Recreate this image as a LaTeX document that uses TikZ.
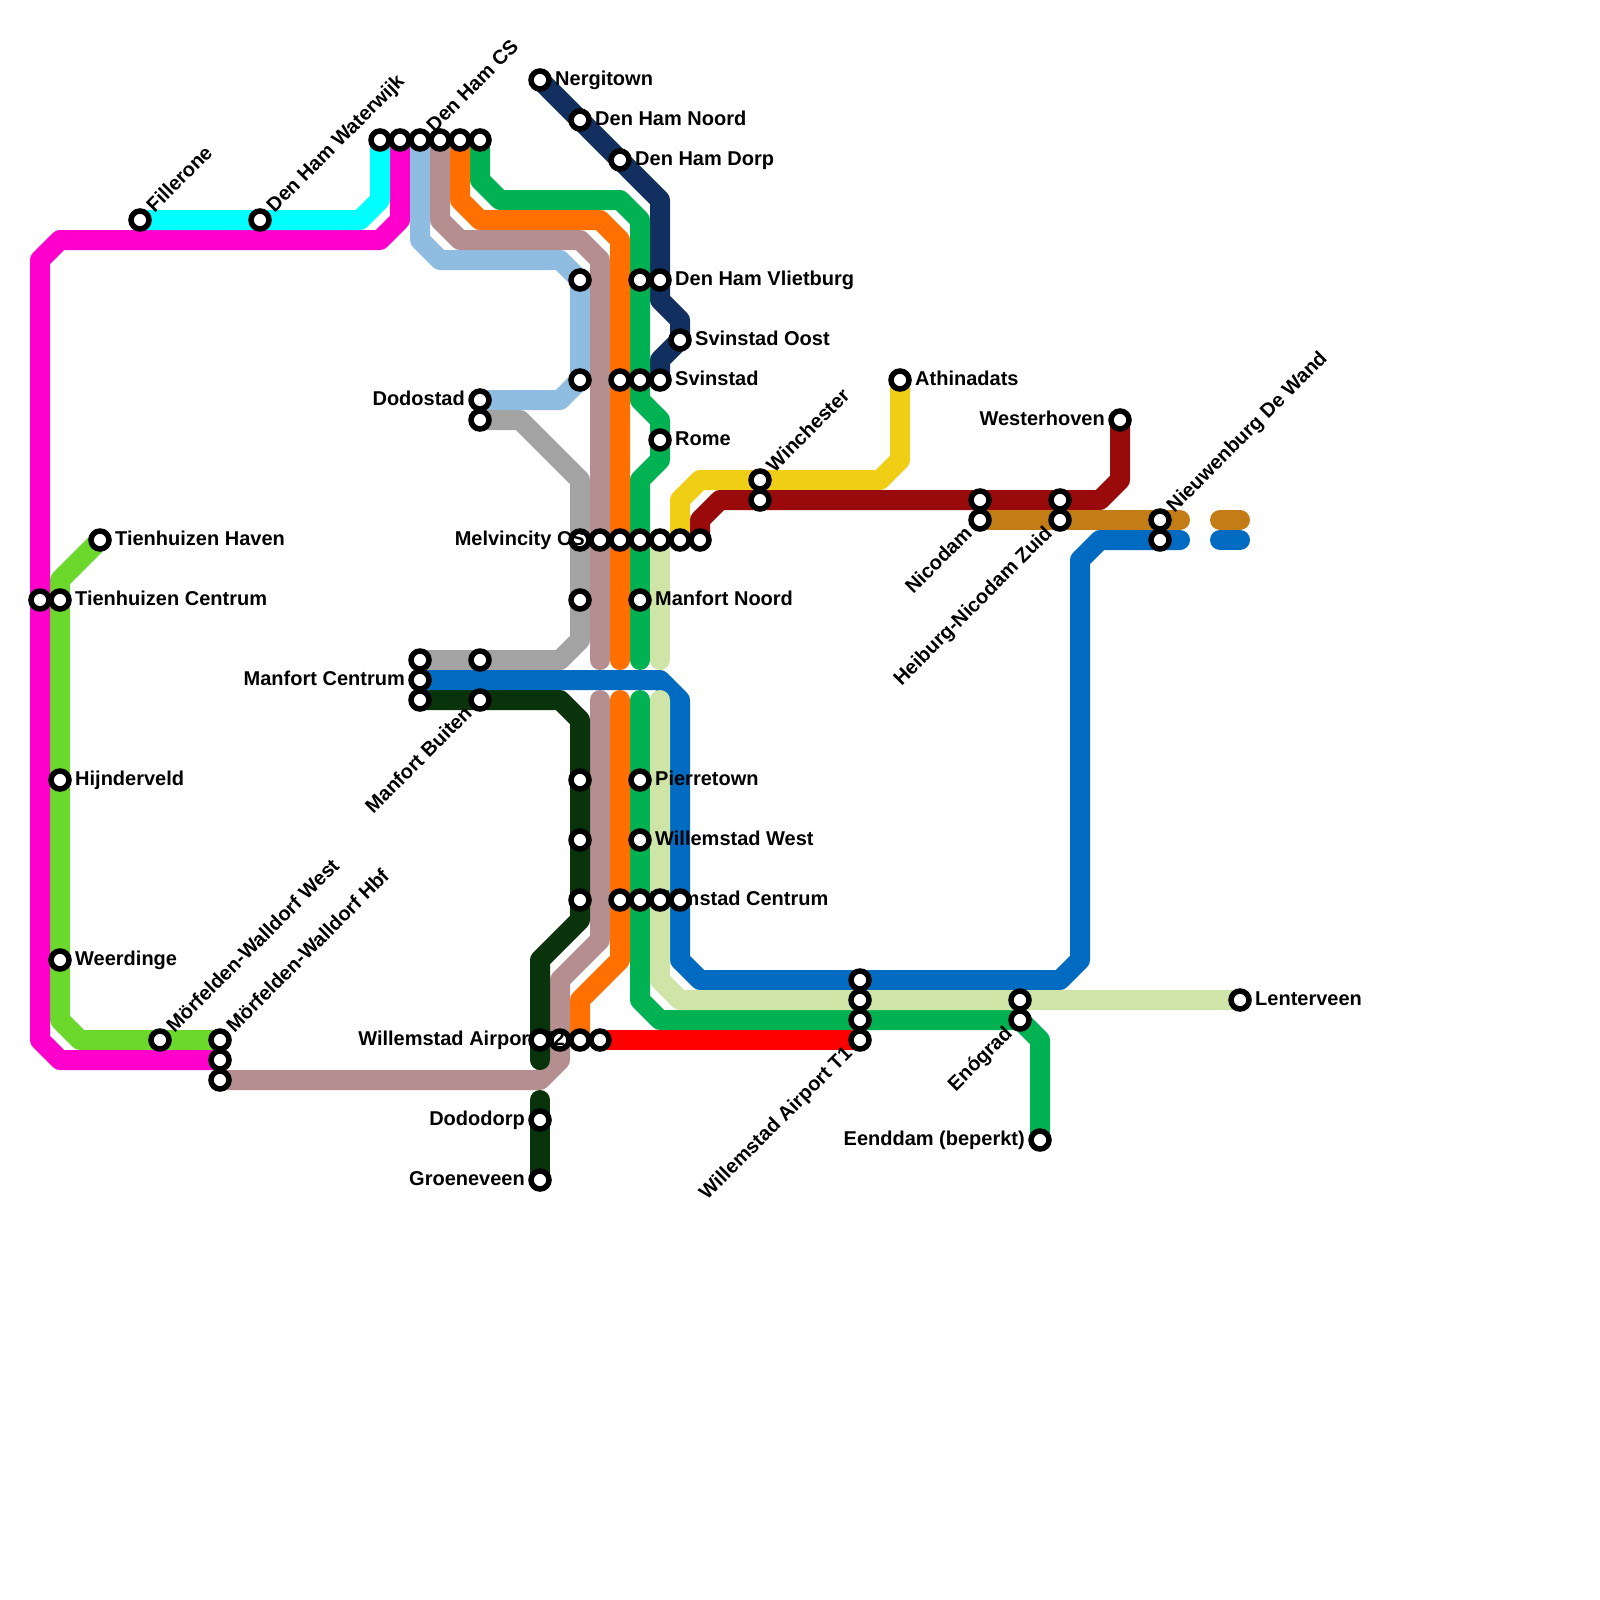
\documentclass[tikz,border=0pt]{standalone}
\usepackage{fontspec}
\setmainfont{Liberation Sans}
\usetikzlibrary{backgrounds}
\definecolor{cCyan}{HTML}{00FFFF}
\definecolor{cPink}{HTML}{FF00CC}
\definecolor{cLime}{HTML}{6BD92C}
\definecolor{cNavy}{HTML}{12305F}
\definecolor{cGreen}{HTML}{00B251}
\definecolor{cOrange}{HTML}{FF7000}
\definecolor{cRose}{HTML}{B58F8F}
\definecolor{cSky}{HTML}{8FBCE1}
\definecolor{cGrey}{HTML}{A3A3A3}
\definecolor{cBlue}{HTML}{006BC0}
\definecolor{cForest}{HTML}{09330B}
\definecolor{cPale}{HTML}{CFE4A7}
\definecolor{cRed}{HTML}{FF0000}
\definecolor{cYellow}{HTML}{F0CE15}
\definecolor{cMaroon}{HTML}{990A0A}
\definecolor{cOchre}{HTML}{C47C16}
\tikzset{
  stn/.style={circle,draw=black,fill=white,line width=5.5pt,minimum size=18pt,inner sep=0pt},
  lbl/.style={inner sep=0pt,font=\fontsize{20}{24}\selectfont\bfseries,text=black},
  labR/.style={lbl,anchor=base west,shift={(15,5.5)}},
  labL/.style={lbl,anchor=base east,shift={(-15,5.5)}},
  labUR/.style={lbl,rotate=45,anchor=base west,shift={(15,5.5)}},
  labDL/.style={lbl,rotate=45,anchor=base east,shift={(-15,5.5)}},
  metro/.style={line width=20pt,line cap=round,line join=round},
}
\newcommand\stn[2]{\node[stn] (s#1-#2) at (#1,#2) {};}
\begin{document}
\begin{tikzpicture}[x=1pt,y=-1pt]
\useasboundingbox (0,0) rectangle (1600,1600);
% free line ends
\coordinate (e600a) at (600,660); \coordinate (e600b) at (600,700);
\coordinate (e620a) at (620,660); \coordinate (e620b) at (620,700);
\coordinate (e640a) at (640,660); \coordinate (e640b) at (640,700);
\coordinate (e660a) at (660,660); \coordinate (e660b) at (660,700);
\coordinate (e540a) at (540,1060); \coordinate (e540b) at (540,1100);
\coordinate (e580c) at (580,1040);
\coordinate (blueA) at (1180,540); \coordinate (blueB) at (1220,540); \coordinate (blueC) at (1240,540);
\coordinate (ochreA) at (1180,520); \coordinate (ochreB) at (1220,520); \coordinate (ochreC) at (1240,520);
% stations and labels
\stn{140}{220} \node[labUR] (lFillerone) at (s140-220) {Fillerone};
\stn{260}{220} \node[labUR] (lWaterwijk) at (s260-220) {Den Ham Waterwijk};
\stn{380}{140} \stn{400}{140}
\stn{420}{140} \node[labUR] (lCS) at (s420-140) {Den Ham CS};
\stn{440}{140} \stn{460}{140} \stn{480}{140}
\stn{540}{80} \node[labR] (lNergitown) at (s540-80) {Nergitown};
\stn{580}{120} \node[labR] (lNoord) at (s580-120) {Den Ham Noord};
\stn{620}{160} \node[labR] (lDorp) at (s620-160) {Den Ham Dorp};
\stn{580}{280} \stn{640}{280}
\stn{660}{280} \node[labR] (lVliet) at (s660-280) {Den Ham Vlietburg};
\stn{680}{340} \node[labR] (lOost) at (s680-340) {Svinstad Oost};
\stn{580}{380} \stn{620}{380} \stn{640}{380}
\stn{660}{380} \node[labR] (lSvin) at (s660-380) {Svinstad};
\stn{480}{400} \node[labL] (lDodo) at (s480-400) {Dodostad};
\stn{480}{420}
\stn{660}{440} \node[labR] (lRome) at (s660-440) {Rome};
\stn{900}{380} \node[labR] (lAthina) at (s900-380) {Athinadats};
\stn{1120}{420} \node[labL] (lWester) at (s1120-420) {Westerhoven};
\stn{760}{480} \node[labUR] (lWinch) at (s760-480) {Winchester};
\stn{760}{500}
\stn{980}{500} \stn{980}{520} \node[labDL] (lNico) at (s980-520) {Nicodam};
\stn{1060}{500} \stn{1060}{520} \node[labDL] (lHei) at (s1060-520) {Heiburg-Nicodam Zuid};
\stn{1160}{520} \node[labUR] (lNieuw) at (s1160-520) {Nieuwenburg De Wand};
\stn{1160}{540}
\stn{100}{540} \node[labR] (lHaven) at (s100-540) {Tienhuizen Haven};
\stn{40}{600}
\stn{60}{600} \node[labR] (lTCentrum) at (s60-600) {Tienhuizen Centrum};
\stn{580}{540}
\stn{600}{540} \node[labL] (lMelv) at (s600-540) {Melvincity CS};
\stn{620}{540} \stn{640}{540} \stn{660}{540} \stn{680}{540} \stn{700}{540}
\stn{580}{600}
\stn{640}{600} \node[labR] (lMNoord) at (s640-600) {Manfort Noord};
\stn{420}{660} \stn{480}{660}
\stn{420}{680} \node[labL] (lMCentrum) at (s420-680) {Manfort Centrum};
\stn{420}{700} \stn{480}{700} \node[labDL] (lMBuiten) at (s480-700) {Manfort Buiten};
\stn{60}{780} \node[labR] (lHijn) at (s60-780) {Hijnderveld};
\stn{580}{780}
\stn{640}{780} \node[labR] (lPierre) at (s640-780) {Pierretown};
\stn{580}{840}
\stn{640}{840} \node[labR] (lWWest) at (s640-840) {Willemstad West};
\stn{580}{900} \stn{620}{900} \node[labR] (lWCentrum) at (s620-900) {Willemstad Centrum};
\stn{640}{900} \stn{660}{900} \stn{680}{900}
\stn{60}{960} \node[labR] (lWeer) at (s60-960) {Weerdinge};
\stn{860}{980} \stn{860}{1000} \stn{860}{1020}
\stn{860}{1040} \node[labDL] (lT1) at (s860-1040) {Willemstad Airport T1};
\stn{1020}{1000}
\stn{1020}{1020} \node[labDL] (lEno) at (s1020-1020) {Enógrad};
\stn{1240}{1000} \node[labR] (lLenter) at (s1240-1000) {Lenterveen};
\stn{160}{1040} \node[labUR] (lMW) at (s160-1040) {Mörfelden-Walldorf West};
\stn{220}{1040} \node[labUR] (lMH) at (s220-1040) {Mörfelden-Walldorf Hbf};
\stn{220}{1060} \stn{220}{1080}
\stn{560}{1040} \stn{580}{1040}
\node[labL] (lT2) at (s580-1040) {Willemstad Airport T2};
\stn{540}{1040} \stn{600}{1040}
\stn{540}{1120} \node[labL] (lDorp2) at (s540-1120) {Dododorp};
\stn{540}{1180} \node[labL] (lGroen) at (s540-1180) {Groeneveen};
\stn{1040}{1140} \node[labL] (lEen) at (s1040-1140) {Eenddam (beperkt)};
% lines
\begin{pgfonlayer}{background}
\fill[white] (0,0) rectangle (1600,1600);
\draw[metro,cLime] (s100-540.center) -- (60,580) -- (60,1020) -- (80,1040) -- (s220-1040.center);
\draw[metro,cPink] (s400-140.center) -- (400,220) -- (380,240) -- (60,240) -- (40,260) -- (40,1040) -- (60,1060) -- (s220-1060.center);
\draw[metro,cCyan] (s140-220.center) -- (360,220) -- (380,200) -- (s380-140.center);
\draw[metro,cNavy] (s540-80.center) -- (660,200) -- (660,300) -- (680,320) -- (680,340) -- (660,360) -- (s660-380.center);
\draw[metro,cGreen] (s480-140.center) -- (480,180) -- (500,200) -- (620,200) -- (640,220) -- (640,400) -- (660,420) -- (660,460) -- (640,480) -- (e640a);
\draw[metro,cGreen] (e640b) -- (640,1000) -- (660,1020) -- (1020,1020) -- (1040,1040) -- (s1040-1140.center);
\draw[metro,cOrange] (s460-140.center) -- (460,200) -- (480,220) -- (600,220) -- (620,240) -- (e620a);
\draw[metro,cOrange] (e620b) -- (620,960) -- (580,1000) -- (e580c);
\draw[metro,cSky] (s420-140.center) -- (420,240) -- (440,260) -- (560,260) -- (580,280) -- (580,380) -- (560,400) -- (s480-400.center);
\draw[metro,cGrey] (s480-420.center) -- (520,420) -- (580,480) -- (580,640) -- (560,660) -- (s420-660.center);
\draw[metro,cRose] (s440-140.center) -- (440,220) -- (460,240) -- (580,240) -- (600,260) -- (e600a);
\draw[metro,cRose] (e600b) -- (600,940) -- (560,980) -- (560,1060) -- (540,1080) -- (s220-1080.center);
\draw[metro,cForest] (s420-700.center) -- (560,700) -- (580,720) -- (580,920) -- (540,960) -- (e540a);
\draw[metro,cForest] (e540b) -- (s540-1180.center);
\draw[metro,cBlue] (s420-680.center) -- (660,680) -- (680,700) -- (680,960) -- (700,980) -- (1060,980) -- (1080,960) -- (1080,560) -- (1100,540) -- (blueA);
\draw[metro,cBlue] (blueB) -- (blueC);
\draw[metro,cPale] (s660-540.center) -- (e660a);
\draw[metro,cPale] (e660b) -- (660,980) -- (680,1000) -- (s1240-1000.center);
\draw[metro,cRed] (s600-1040.center) -- (s860-1040.center);
\draw[metro,cYellow] (s680-540.center) -- (680,500) -- (700,480) -- (880,480) -- (900,460) -- (s900-380.center);
\draw[metro,cMaroon] (s700-540.center) -- (700,520) -- (720,500) -- (1100,500) -- (1120,480) -- (s1120-420.center);
\draw[metro,cOchre] (s980-520.center) -- (ochreA);
\draw[metro,cOchre] (ochreB) -- (ochreC);
\end{pgfonlayer}
\end{tikzpicture}
\end{document}
